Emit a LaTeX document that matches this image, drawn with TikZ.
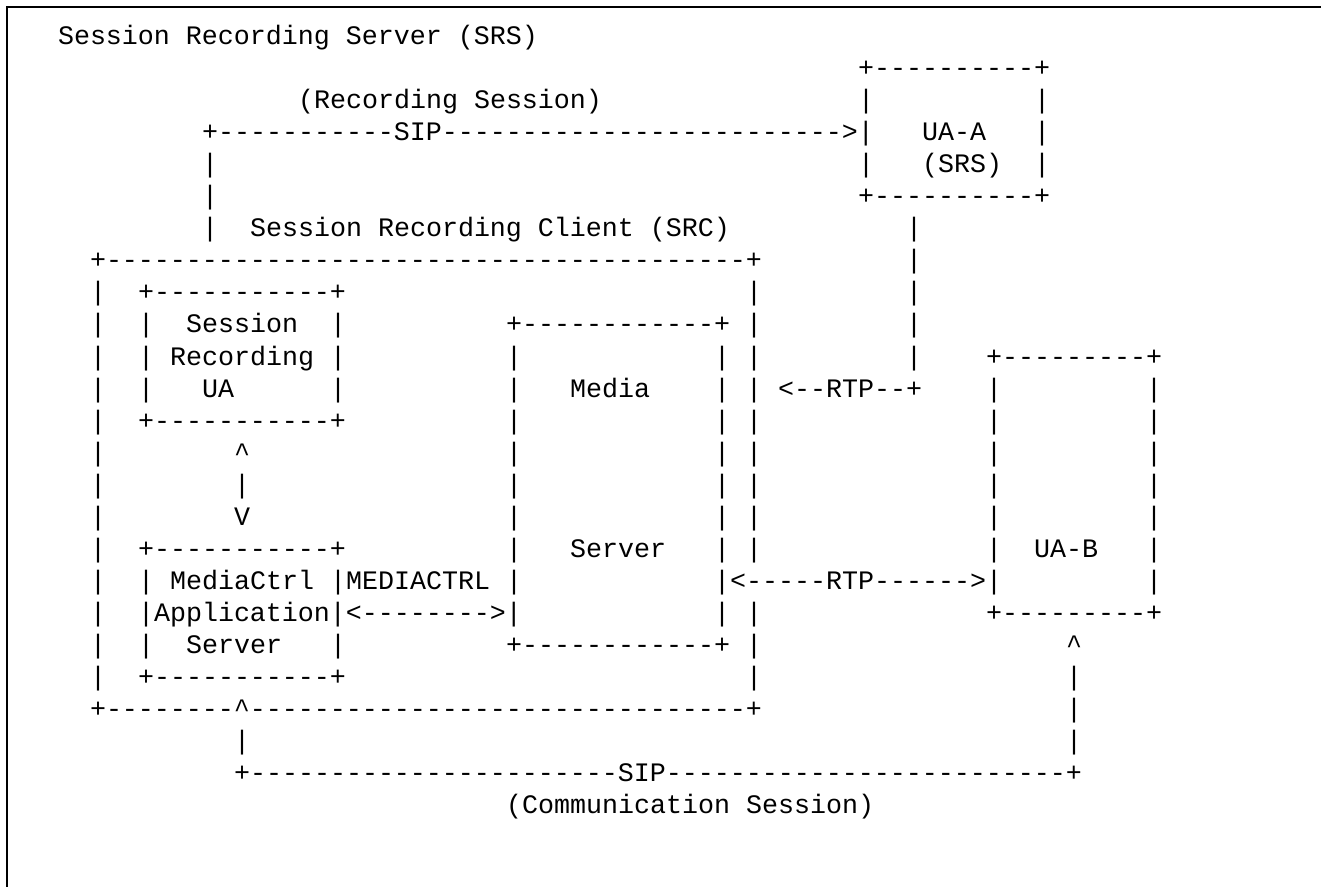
\documentclass[tikz,border=0pt]{standalone}
\usepackage{fontspec}
\setmonofont{Liberation Mono}
\ExplSyntaxOn
\cs_new:Npn \dsh #1 { \prg_replicate:nn {#1} {-} }
\ExplSyntaxOff
\newcommand\tx[4]{\node[asc] (#1) at ({58+16*(#2)},{45+32*(#3)}) {#4};}
\begin{document}
\begin{tikzpicture}[x=0.5pt,y=-0.5pt,
  asc/.style={anchor=base west, inner sep=0pt, outer sep=0pt,
    font=\ttfamily\fontsize{13.333pt}{16pt}\selectfont, text=black}]
\useasboundingbox (0,0) rectangle (1321,887);
\draw[line width=1pt] (1321,7) -- (7,7) -- (7,887);
% texts and box edges
\tx{srs}{0}{0}{Session Recording Server (SRS)}
\tx{uaatop}{50}{1}{+\dsh{10}+}
\tx{recs}{15}{2}{(Recording Session)}
\tx{sipa}{9}{3}{+\dsh{11}SIP\dsh{25}>|}
\tx{uaa}{54}{3}{UA-A}
\tx{uaasrs}{54}{4}{(SRS)}
\tx{uaabot}{50}{5}{+\dsh{10}+}
\tx{srcl}{12}{6}{Session Recording Client (SRC)}
\tx{srctop}{2}{7}{+\dsh{40}+}
\tx{sruatop}{5}{8}{+\dsh{11}+}
\tx{srua1}{8}{9}{Session}
\tx{mstop}{28}{9}{+\dsh{12}+}
\tx{srua2}{7}{10}{Recording}
\tx{uabtop}{58}{10}{+\dsh{9}+}
\tx{srua3}{9}{11}{UA}
\tx{ms1}{32}{11}{Media}
\tx{rtpa}{45}{11}{<--RTP--+}
\tx{sruabot}{5}{12}{+\dsh{11}+}
\tx{up1}{11}{13}{\textasciicircum}
\tx{up2}{11}{14}{|}
\tx{up3}{11}{15}{V}
\tx{mcttop}{5}{16}{+\dsh{11}+}
\tx{ms2}{32}{16}{Server}
\tx{uab}{61}{16}{UA-B}
\tx{mct1}{7}{17}{MediaCtrl}
\tx{mclabel}{17}{17}{|MEDIACTRL}
\tx{rtpb}{41}{17}{|<\dsh{5}RTP\dsh{6}>|}
\tx{mct2}{5}{18}{|Application|<\dsh{8}>|}
\tx{uabbot}{58}{18}{+\dsh{9}+}
\tx{mct3}{8}{19}{Server}
\tx{msbot}{28}{19}{+\dsh{12}+}
\tx{uabup}{63}{19}{\textasciicircum}
\tx{mctbot}{5}{20}{+\dsh{11}+}
\tx{srcbot}{2}{21}{+\dsh{8}\textasciicircum\dsh{31}+}
\tx{sipb}{11}{23}{+\dsh{23}SIP\dsh{25}+}
\tx{coms}{28}{24}{(Communication Session)}
% vertical bars
\foreach \l in {2,4} {\tx{b50-\l}{50}{\l}{|}}
\foreach \l in {2,3,4} {\tx{b61-\l}{61}{\l}{|}}
\foreach \l in {4,5,6} {\tx{b9-\l}{9}{\l}{|}}
\foreach \l in {6,...,10} {\tx{b53-\l}{53}{\l}{|}}
\foreach \l in {8,...,20} {\tx{b2-\l}{2}{\l}{|}}
\foreach \l in {8,...,16,18,19,20} {\tx{b43-\l}{43}{\l}{|}}
\foreach \l in {9,10,11,17,19} {\tx{b5-\l}{5}{\l}{|}}
\foreach \l in {9,10,11,19} {\tx{b17-\l}{17}{\l}{|}}
\foreach \l in {10,...,17} {\tx{b28-\l}{28}{\l}{|}}
\foreach \l in {10,...,16,18} {\tx{b41-\l}{41}{\l}{|}}
\foreach \l in {11,...,16} {\tx{b58-\l}{58}{\l}{|}}
\foreach \l in {11,...,17} {\tx{b68-\l}{68}{\l}{|}}
\foreach \l in {20,21,22} {\tx{b63-\l}{63}{\l}{|}}
\tx{b11-22}{11}{22}{|}
\end{tikzpicture}
\end{document}
